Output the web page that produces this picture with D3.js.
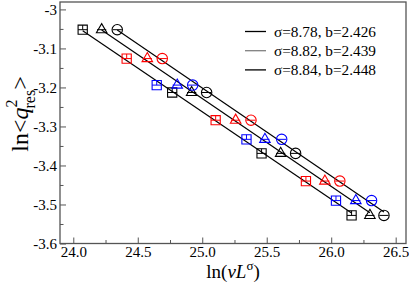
<!DOCTYPE html>
<html>
<head>
<meta charset="utf-8">
<script src="https://cdn.jsdelivr.net/npm/d3@7"></script>
<style>
  body { margin: 0; background: #fff; }
  text { font-family: "Liberation Serif", "Times New Roman", serif; }
</style>
</head>
<body>
<div id="chart"></div>
<script>
// colour of each system size, same order as the y values
const groupColors = ["black", "red", "blue", "black", "red", "blue", "black", "red", "blue", "black"]
// ln<q^2_res>, shared by the three sigma values
const lnQ = [-3.052, -3.126, -3.194, -3.213, -3.284, -3.333, -3.369, -3.440, -3.490, -3.528]
// ln(v L^sigma) for each sigma
const xSquare   = [24.073, 24.414, 24.647, 24.767, 25.104, 25.343, 25.460, 25.804, 26.037, 26.158]
const xTriangle = [24.220, 24.574, 24.806, 24.918, 25.259, 25.486, 25.608, 25.951, 26.191, 26.300]
const xCircle   = [24.341, 24.690, 24.926, 25.034, 25.378, 25.616, 25.724, 26.067, 26.313, 26.409]
const legendLabels = ["σ=8.78, b=2.426", "σ=8.82, b=2.439", "σ=8.84, b=2.448"]
const legendColors = ["black", "#808080", "black"]
const xTicks = [24.0, 24.5, 25.0, 25.5, 26.0, 26.5]
const yTicks = [-3.6, -3.5, -3.4, -3.3, -3.2, -3.1, -3.0]

var width = 409, height = 284
var pLeft = 60, pRight = 406, pTop = 2, pBottom = 243.5

var svg = d3.select("#chart").append("svg")
    .attr("width", width)
    .attr("height", height)

var x = d3.scaleLinear().domain([23.897, 26.58]).range([pLeft, pRight])
var y = d3.scaleLinear().domain([-3.6, -2.981]).range([pBottom, pTop])

// ticks: major inward, minor in between
var xAxis = d3.axisBottom(x).tickValues(xTicks).tickSize(-6).tickPadding(3).tickFormat(d3.format(".1f"))
var xMinor = d3.axisBottom(x).tickValues(d3.range(24.25, 26.5, 0.5)).tickSize(-3.5).tickFormat("")
var yAxis = d3.axisLeft(y).tickValues(yTicks).tickSize(-6).tickPadding(3)
    .tickFormat(d => d === -3 ? "-3" : d.toFixed(1))
var yMinor = d3.axisLeft(y).tickValues(d3.range(-3.55, -3.0, 0.1)).tickSize(-3.5).tickFormat("")

function styleAxis(g) {
  g.select(".domain").remove()
  g.selectAll("line").attr("stroke", "#555").attr("stroke-width", 1)
  g.selectAll("text").attr("font-size", 15).attr("fill", "black")
    .style("font-family", "'Liberation Serif', serif")
}

svg.append("g").attr("transform", "translate(0," + pBottom + ")").call(xAxis).call(styleAxis)
svg.append("g").attr("transform", "translate(0," + pBottom + ")").call(xMinor).call(styleAxis)
svg.append("g").attr("transform", "translate(" + pLeft + ",0)").call(yAxis).call(styleAxis)
svg.append("g").attr("transform", "translate(" + pLeft + ",0)").call(yMinor).call(styleAxis)

svg.append("rect")
    .attr("x", pLeft).attr("y", pTop)
    .attr("width", pRight - pLeft).attr("height", pBottom - pTop)
    .attr("fill", "none").attr("stroke", "#555").attr("stroke-width", 1.3)

var series = [
  { xs: xSquare, shape: "square" },
  { xs: xTriangle, shape: "triangle" },
  { xs: xCircle, shape: "circle" }
]

// least squares fit lines
series.forEach(s => {
  var mx = d3.mean(s.xs), my = d3.mean(lnQ)
  var num = d3.sum(s.xs, (v, i) => (v - mx) * (lnQ[i] - my))
  var den = d3.sum(s.xs, v => (v - mx) * (v - mx))
  var slope = num / den, icpt = my - slope * mx
  var x0 = d3.min(s.xs), x1 = d3.max(s.xs)
  svg.append("line")
      .attr("x1", x(x0)).attr("y1", y(icpt + slope * x0))
      .attr("x2", x(x1)).attr("y2", y(icpt + slope * x1))
      .attr("stroke", "black").attr("stroke-width", 1.2)
})

var symbols = { square: d3.symbolSquare, triangle: d3.symbolTriangle, circle: d3.symbolCircle }
var sizes = { square: 85, triangle: 48, circle: 85 }

series.forEach(s => {
  var g = svg.selectAll(null)
    .data(s.xs.map((v, i) => ({ x: v, y: lnQ[i], c: groupColors[i] })))
    .enter().append("g")
      .attr("transform", d => "translate(" + x(d.x) + "," + y(d.y) + ")")
  g.append("path")
      .attr("d", d3.symbol().type(symbols[s.shape]).size(sizes[s.shape]))
      .attr("fill", "none")
      .attr("stroke", d => d.c)
      .attr("stroke-width", 1.1)
  g.append("line")
      .attr("x1", -4.6).attr("x2", 4.6).attr("y1", 0).attr("y2", 0)
      .attr("stroke", d => d.c).attr("stroke-width", 1)
  if (s.shape === "square") {
    g.append("line")
        .attr("x1", 0).attr("x2", 0).attr("y1", -4.6).attr("y2", 0)
        .attr("stroke", d => d.c).attr("stroke-width", 1)
  }
})

// legend
var legend = svg.selectAll(null)
  .data(legendLabels)
  .enter().append("g")
    .attr("transform", (d, i) => "translate(245," + (31.5 + i * 19.2) + ")")
legend.append("line")
    .attr("x1", 0).attr("x2", 21)
    .attr("stroke", (d, i) => legendColors[i]).attr("stroke-width", 1.3)
legend.append("text")
    .attr("x", 29).attr("y", 5)
    .attr("font-size", 15.3)
    .text(d => d)

// x title
var xt = svg.append("text")
    .attr("x", 233).attr("y", 278)
    .attr("text-anchor", "middle")
    .attr("font-size", 19)
xt.append("tspan").text("ln(")
xt.append("tspan").attr("font-style", "italic").text("νL")
xt.append("tspan").attr("font-size", 13).attr("dy", -8).text("σ")
xt.append("tspan").attr("dy", 8).text(")")

// y title
var yt = svg.append("text")
    .attr("transform", "translate(28,114) rotate(-90)")
    .attr("text-anchor", "middle")
    .attr("font-size", 24)
yt.append("tspan").text("ln")
yt.append("tspan").text("<")
yt.append("tspan").attr("font-style", "italic").text("q")
yt.append("tspan").attr("font-size", 16).attr("dy", -11).text("2")
yt.append("tspan").attr("font-size", 16).attr("dx", -9).attr("dy", 18).text("res")
yt.append("tspan").attr("dy", -7).text(">")
</script>
</body>
</html>
